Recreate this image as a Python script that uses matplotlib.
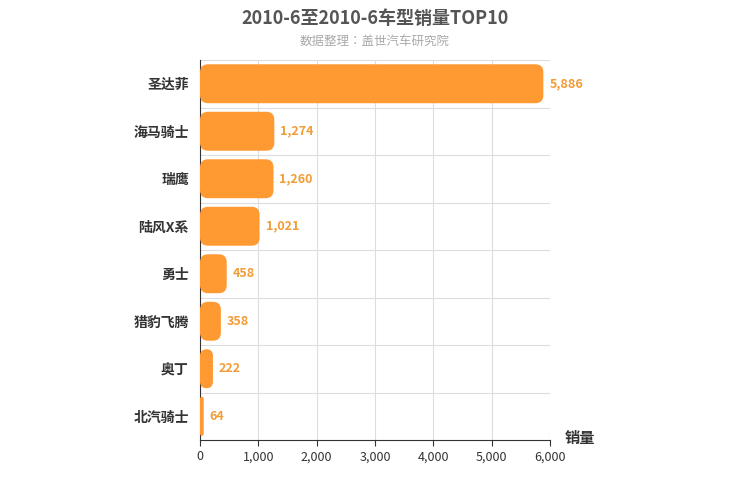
import matplotlib.pyplot as plt
from matplotlib import font_manager
from matplotlib.patches import FancyBboxPatch

cjk = [f.name for f in font_manager.fontManager.ttflist if 'CJK' in f.name]
cjk = sorted(set(cjk), key=lambda s: ('SC' not in s, s))
plt.rcParams['font.family'] = ['sans-serif']
plt.rcParams['font.sans-serif'] = cjk + ['Noto Sans CJK SC', 'DejaVu Sans']

models = ['圣达菲', '海马骑士', '瑞鹰', '陆风X系', '勇士', '猎豹飞腾', '奥丁', '北汽骑士']
sales = [5886, 1274, 1260, 1021, 458, 358, 222, 64]
xticks = [0, 1000, 2000, 3000, 4000, 5000, 6000]

fig = plt.figure(figsize=(7.5, 5), dpi=100)
ax = fig.add_axes([200 / 750, 60 / 500, 350 / 750, 380 / 500])

n = len(models)
ax.set_xlim(0, 6000)
ax.set_ylim(-0.5, n - 0.5)
ax.invert_yaxis()

# 像素到数据单位的换算，用于圆角
xpx = 6000 / 350
ypx = n / 380
r = 8 * xpx
for i, v in enumerate(sales):
    h = 0.82
    p = FancyBboxPatch((0, i - h / 2), v, h,
                       boxstyle=f'round,pad=0,rounding_size={min(r, v / 2 + 1)}',
                       mutation_aspect=ypx / xpx,
                       facecolor='#FF9A33', edgecolor='none', zorder=3)
    ax.add_patch(p)
    ax.text(v + 6 * xpx, i, f'{v:,}', va='center', ha='left',
            color='#F39C35', fontsize=9, fontweight='bold', zorder=4)

ax.set_yticks(range(n))
ax.set_yticklabels(models, fontsize=10, fontweight='bold', color='#333333')
ax.set_xticks(xticks)
ax.set_xticklabels([f'{t:,}' for t in xticks], fontsize=9, color='#333333')
ax.tick_params(axis='y', length=0, pad=8)
ax.tick_params(axis='x', length=4, color='#333333')

for t in xticks[1:]:
    ax.axvline(t, color='#DDDDDD', lw=0.8, zorder=1)
for b in range(n - 1):
    ax.axhline(b + 0.5, color='#DDDDDD', lw=0.8, zorder=1)
ax.axhline(-0.5, color='#DDDDDD', lw=0.8, zorder=1)

for s in ['top', 'right']:
    ax.spines[s].set_visible(False)
ax.spines['left'].set_color('#333333')
ax.spines['bottom'].set_color('#333333')

fig.text(0.5, 1 - 18 / 500, '2010-6至2010-6车型销量TOP10', ha='center', va='center',
         fontsize=13, fontweight='bold', color='#555555')
fig.text(0.5, 1 - 41 / 500, '数据整理：盖世汽车研究院', ha='center', va='center',
         fontsize=9, color='#AAAAAA')
fig.text(580 / 750, 1 - 438 / 500, '销量', ha='center', va='center',
         fontsize=11, fontweight='bold', color='#333333')

fig.savefig('out.png', dpi=100)
